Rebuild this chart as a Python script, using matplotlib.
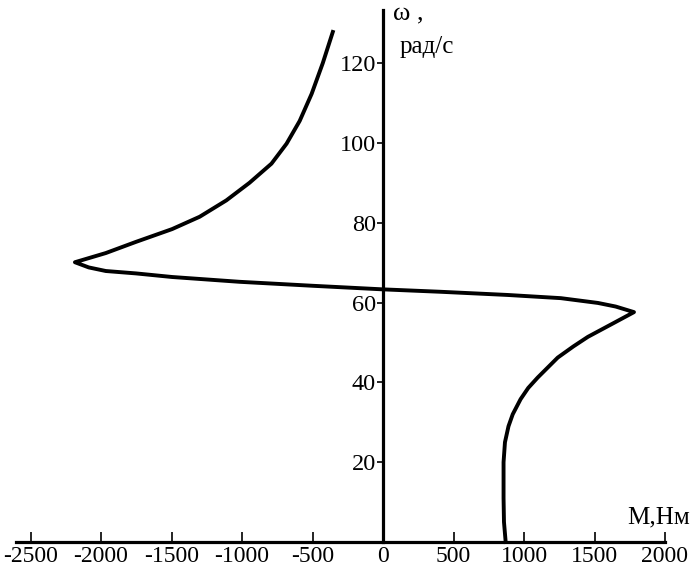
import matplotlib
matplotlib.use('Agg')
import matplotlib.pyplot as plt

# Torque M (N*m) vs angular speed omega (rad/s)
torque = [870, 858, 855, 855, 865, 890, 920, 976, 1030, 1097, 1239, 1350, 1453, 1638, 1780,
          1650, 1524, 1261, 883, 406, 0, -499, -1019, -1496, -1752, -1966, -2087, -2185,
          -1966, -1752, -1496, -1300, -1111, -947, -791, -684,
          -591, -506, -427, -356]
omega = [0, 5, 11, 20, 25, 29, 32, 35.8, 38.6, 41.2, 46.2, 49.0, 51.4, 54.9, 57.6,
         59.0, 59.9, 61.1, 61.9, 62.7, 63.3, 64.2, 65.2, 66.4, 67.3, 67.9, 68.8, 70.1,
         72.4, 75.2, 78.4, 81.5, 85.6, 90.0, 94.8, 99.8,
         105.5, 112.3, 120, 127.8]

x_ticks = [-2500, -2000, -1500, -1000, -500, 0, 500, 1000, 1500, 2000]
y_ticks = [20, 40, 60, 80, 100, 120]

plt.rcParams['font.family'] = ['Liberation Serif', 'DejaVu Serif']

fig = plt.figure(figsize=(6.99, 5.75), dpi=100)
ax = fig.add_axes([16.4 / 699, 33 / 575, 648.6 / 699, 532 / 575])

ax.plot(torque, omega, color='black', lw=2.8, solid_joinstyle='round', clip_on=False)

ax.set_xlim(-2600, 2000)
ax.set_ylim(0, 133.3)

# axes through the origin
ax.spines['left'].set_position(('data', 0))
ax.spines['bottom'].set_position(('data', 0))
ax.spines['top'].set_visible(False)
ax.spines['right'].set_visible(False)
ax.spines['left'].set_linewidth(2.3)
ax.spines['bottom'].set_linewidth(2.3)

ax.set_xticks(x_ticks)
ax.set_xticklabels([str(v) for v in x_ticks])
ax.set_yticks(y_ticks)
ax.set_yticklabels([str(v) for v in y_ticks])
ax.tick_params(axis='x', direction='in', length=7, width=1.2, labelsize=17, pad=3)
ax.tick_params(axis='y', direction='out', length=4, width=1.2, labelsize=17.5, pad=1)

# axis names
ax.text(71, 135.2, 'ω ,', fontsize=19, ha='left', va='top', clip_on=False)
ax.text(120, 126.8, 'рад/с', fontsize=18, ha='left', va='top', clip_on=False)
ax.text(2180, 3.5, 'М,Нм', fontsize=18, ha='right', va='bottom', clip_on=False)

fig.savefig('out.png', dpi=100)
